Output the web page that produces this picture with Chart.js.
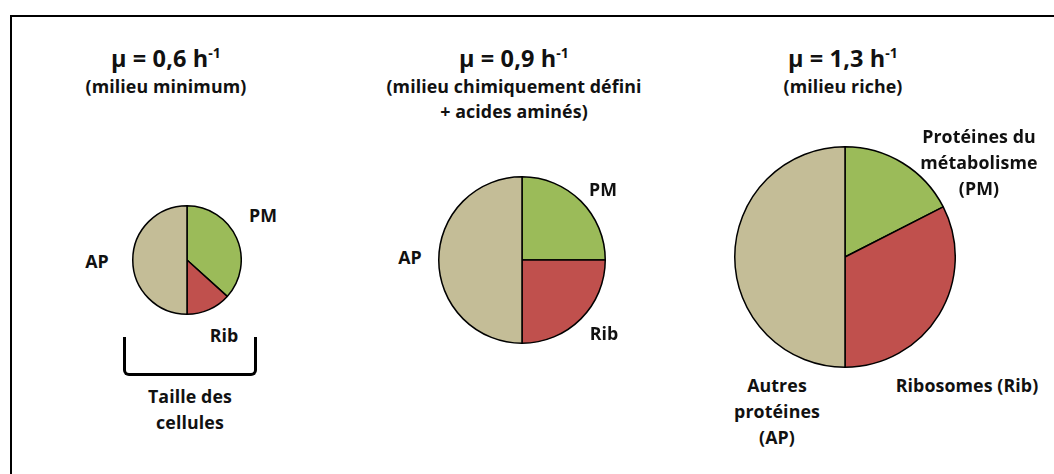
<!DOCTYPE html>
<html>
<head>
<meta charset="utf-8">
<script src="https://cdn.jsdelivr.net/npm/chart.js@4/dist/chart.umd.min.js"></script>
<style>
    body { margin: 0; background: #fff; width: 1054px; height: 474px; overflow: hidden; position: relative; font-family: "Open Sans", Lato, sans-serif; font-weight: bold; color: #111; }
    .frame { position: absolute; left: 10px; top: 15px; width: 1100px; height: 500px; border: 2px solid #000; }
    .txt { position: absolute; transform: translate(-50%, -50%); white-space: nowrap; text-align: center; line-height: 26px; letter-spacing: 0.1px; }
    .title { font-size: 23.5px; }
    .title sup { font-size: 14px; vertical-align: 9px; }
    .sub { font-size: 17.8px; line-height: 25px; }
    .lbl { font-size: 17.8px; line-height: 26px; }
    canvas { position: absolute; }
    .bracket { position: absolute; left: 123px; top: 337px; width: 128px; height: 36px; border: 3px solid #000; border-top: none; border-radius: 0 0 6px 6px; }
</style>
</head>
<body>
<div class="frame"></div>

<script>
// Growth conditions
const growthRates = ['0,6', '0,9', '1,3'];
const mediums = ['(milieu minimum)', '(milieu chimiquement défini<br>+ acides aminés)', '(milieu riche)'];

// Protein fractions (% of proteome), order: PM, Rib, AP
const sliceNames = ['PM', 'Rib', 'AP'];
const pmShare = [36.7, 25, 17.5];
const ribShare = [13.3, 25, 32.5];
const apShare = [50, 50, 50];
const sliceColors = ['#9BBB59', '#C0504D', '#C4BD97'];

// layout of each pie (center + radius in px)
const pies = [
    { cx: 187, cy: 260, r: 54 },
    { cx: 522, cy: 260, r: 83 },
    { cx: 845, cy: 257, r: 110 }
];
const titlePos = [
    { x: 166, y: 55, sy: 86 },
    { x: 514, y: 55, sy: 99 },
    { x: 843, y: 55, sy: 86 }
];

function addText(html, x, y, cls) {
    const d = document.createElement('div');
    d.className = 'txt ' + cls;
    d.style.left = x + 'px';
    d.style.top = y + 'px';
    d.innerHTML = html;
    document.body.appendChild(d);
}

pies.forEach(function(p, i) {
    const size = 2 * p.r + 2;
    const canvas = document.createElement('canvas');
    canvas.width = size;
    canvas.height = size;
    canvas.style.left = (p.cx - size / 2) + 'px';
    canvas.style.top = (p.cy - size / 2) + 'px';
    document.body.appendChild(canvas);

    new Chart(canvas.getContext('2d'), {
        type: 'pie',
        data: {
            labels: sliceNames,
            datasets: [{
                data: [pmShare[i], ribShare[i], apShare[i]],
                backgroundColor: sliceColors,
                borderColor: '#000',
                borderWidth: 1.5
            }]
        },
        options: {
            responsive: false,
            animation: false,
            layout: { padding: 0 },
            plugins: { legend: { display: false }, tooltip: { enabled: false } }
        }
    });

    addText('µ = ' + growthRates[i] + ' h<sup>-1</sup>', titlePos[i].x, titlePos[i].y, 'title');
    addText(mediums[i], titlePos[i].x, titlePos[i].sy, 'sub');
});

// slice labels
addText('PM', 263, 215, 'lbl');
addText('AP', 97, 261, 'lbl');
addText('Rib', 224, 335, 'lbl');
addText('PM', 603, 189, 'lbl');
addText('AP', 410, 257, 'lbl');
addText('Rib', 604, 333, 'lbl');
addText('Protéines du<br>métabolisme<br>(PM)', 979, 162, 'lbl');
addText('Ribosomes (Rib)', 967, 385, 'lbl');
addText('Autres<br>protéines<br>(AP)', 777, 411, 'lbl');

// cell size bracket
const br = document.createElement('div');
br.className = 'bracket';
document.body.appendChild(br);
addText('Taille des<br>cellules', 190, 409, 'lbl');
</script>
</body>
</html>
